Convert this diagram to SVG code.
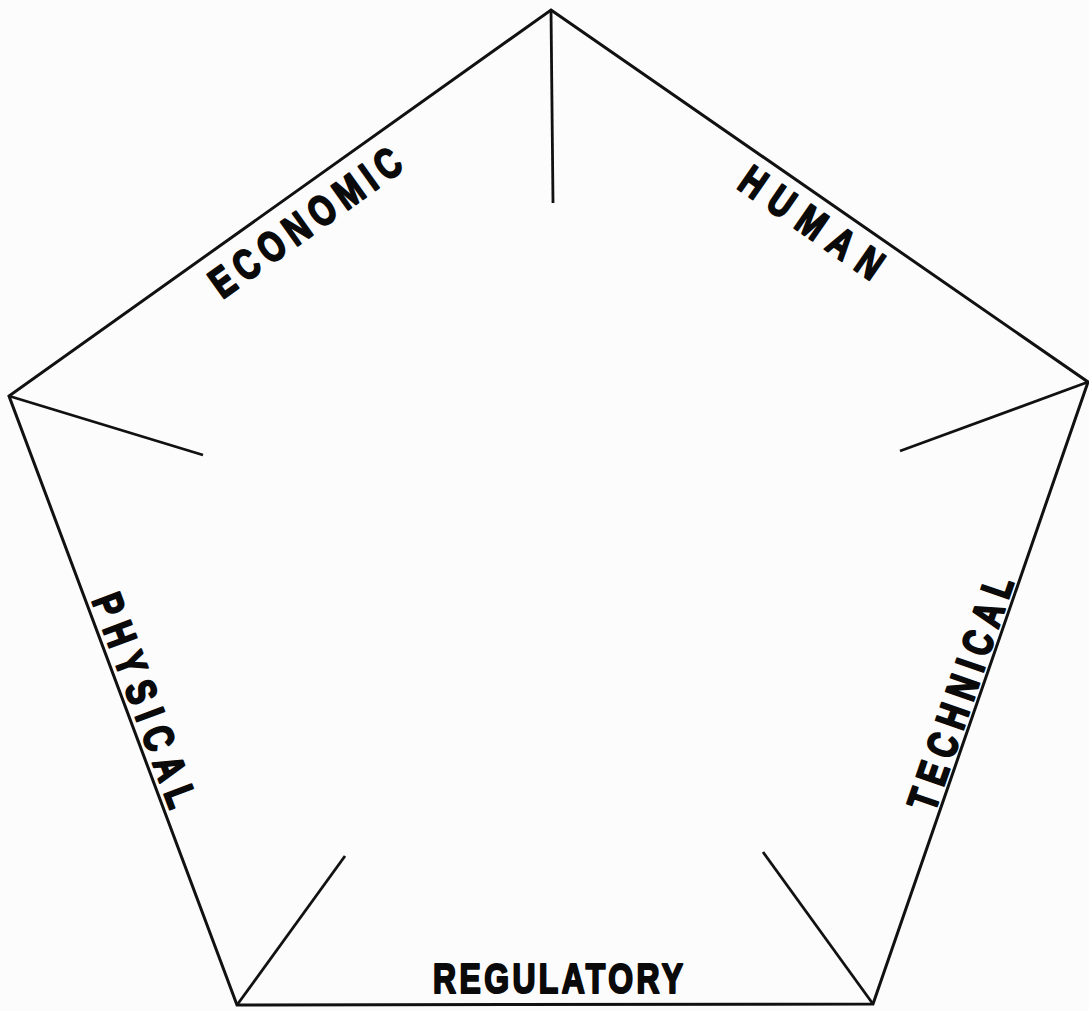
<svg xmlns="http://www.w3.org/2000/svg" width="1089" height="1011" viewBox="0 0 1089 1011">
<style>
.edge{fill:none;stroke:#111;stroke-width:3;stroke-linejoin:miter}
.spoke{fill:none;stroke:#111;stroke-width:2.8;stroke-linecap:butt}
.lbl{font-family:"Liberation Sans",Arial,sans-serif;font-weight:bold;font-size:42px;fill:#0a0a0a;stroke:#0a0a0a;stroke-width:2.2;stroke-linejoin:round;text-anchor:middle}
</style>
<rect width="1089" height="1011" fill="#fcfcfc"/>
<g id="pentagon">
<polygon class="edge" points="551,10 1088,382 873,1004 237,1005 9,396"/>
</g>
<g id="connectors">
<line class="spoke" x1="551" y1="10" x2="553" y2="203"/>
<line class="spoke" x1="9" y1="396" x2="203" y2="455"/>
<line class="spoke" x1="1088" y1="382" x2="900" y2="451"/>
<line class="spoke" x1="237" y1="1005" x2="345" y2="856"/>
<line class="spoke" x1="873" y1="1004" x2="763" y2="852"/>
</g>
<g id="economic" transform="translate(305,222) rotate(-35.5)">
<text class="lbl" transform="scale(0.76,1)" x="0" y="15" textLength="296" lengthAdjust="spacing">ECONOMIC</text>
</g>
<g id="human" transform="translate(812,222) rotate(34.7)">
<text class="lbl" transform="scale(0.76,1)" x="0" y="15" textLength="217" lengthAdjust="spacing">HUMAN</text>
</g>
<g id="physical" transform="translate(145,700) rotate(69.5)">
<text class="lbl" transform="scale(0.76,1)" x="0" y="15" textLength="296" lengthAdjust="spacing">PHYSICAL</text>
</g>
<g id="technical" transform="translate(960,693) rotate(-70.9)">
<text class="lbl" transform="scale(0.76,1)" x="0" y="15" textLength="322" lengthAdjust="spacing">TECHNICAL</text>
</g>
<g id="regulatory" transform="translate(558,977.5)">
<text class="lbl" transform="scale(0.76,1)" x="0" y="15" textLength="329" lengthAdjust="spacing">REGULATORY</text>
</g>
</svg>
